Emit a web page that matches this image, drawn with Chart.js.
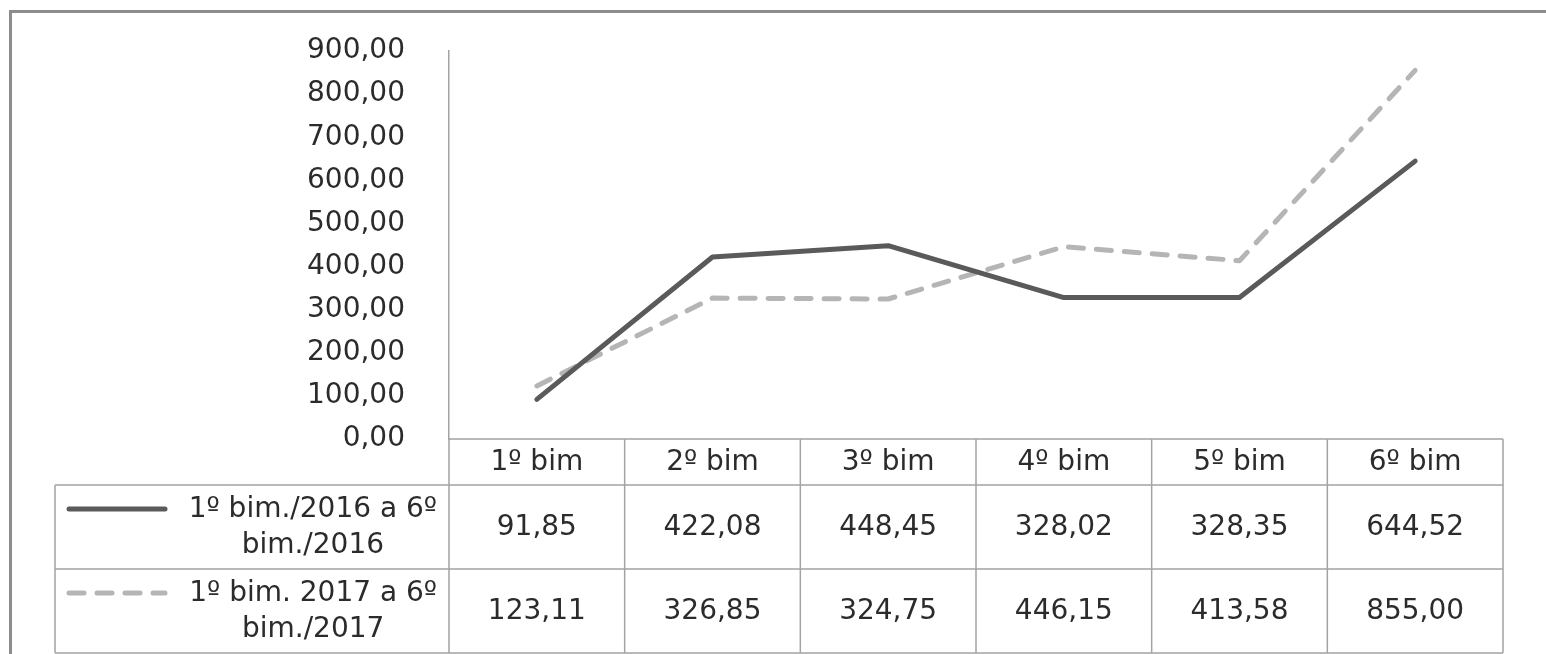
<!DOCTYPE html>
<html>
<head>
<meta charset="utf-8">
<script src="https://cdn.jsdelivr.net/npm/chart.js@4.4.1/dist/chart.umd.min.js"></script>
<style>
  html, body { margin: 0; padding: 0; background: #ffffff; }
  canvas { display: block; }
</style>
</head>
<body>
<canvas id="chart" width="1546" height="654"></canvas>
<script>
// Bimesters shown on the horizontal axis and in the data table header
const categories = ['1º bim', '2º bim', '3º bim', '4º bim', '5º bim', '6º bim'];

// Values per bimester
const values2016 = [91.85, 422.08, 448.45, 328.02, 328.35, 644.52];
const values2017 = [123.11, 326.85, 324.75, 446.15, 413.58, 855.00];

// Series names (two lines each, as shown in the table legend)
const names2016 = ['1º bim./2016 a 6º', 'bim./2016'];
const names2017 = ['1º bim. 2017 a 6º', 'bim./2017'];

// Vertical axis range
const yMin = 0;
const yMax = 900;
const yStep = 100;

const FONT_FAMILY = '"DejaVu Sans", sans-serif';
const FONT_SIZE = 28;
const TEXT_COLOR = '#2b2b2b';
const GRID_COLOR = '#a3a3a3';
const DARK = '#5a5a5a';
const LIGHT = '#b5b5b5';
const DASH = [15, 13];

const fmt = v => v.toFixed(2).replace('.', ',');

// Outer frame of the chart object
const framePlugin = {
  id: 'frame',
  beforeDraw(chart) {
    const ctx = chart.ctx;
    ctx.save();
    ctx.strokeStyle = '#8c8c8c';
    ctx.lineWidth = 3;
    ctx.beginPath();
    ctx.moveTo(10.5, chart.height);
    ctx.lineTo(10.5, 11.5);
    ctx.lineTo(chart.width, 11.5);
    ctx.stroke();
    ctx.restore();
  }
};

// Data table under the plot: header with categories, one row per series
const tablePlugin = {
  id: 'dataTable',
  afterDraw(chart) {
    const ctx = chart.ctx;
    const a = chart.chartArea;
    const xs = chart.scales.x;
    const n = categories.length;
    const colW = (a.right - a.left) / n;
    const headH = 46;
    const rowH = 84;
    const legendLeft = 55;
    const top = a.bottom;
    const headBottom = top + headH;
    const bottom = headBottom + 2 * rowH;

    ctx.save();
    ctx.strokeStyle = GRID_COLOR;
    ctx.lineWidth = 1.5;
    ctx.beginPath();
    ctx.moveTo(a.left, top);
    ctx.lineTo(a.right, top);
    for (let r = 0; r <= 2; r++) {
      const y = headBottom + r * rowH;
      ctx.moveTo(legendLeft, y);
      ctx.lineTo(a.right, y);
    }
    for (let i = 0; i <= n; i++) {
      const x = a.left + i * colW;
      ctx.moveTo(x, top);
      ctx.lineTo(x, bottom);
    }
    ctx.moveTo(legendLeft, headBottom);
    ctx.lineTo(legendLeft, bottom);
    ctx.stroke();

    ctx.fillStyle = TEXT_COLOR;
    ctx.font = FONT_SIZE + 'px ' + FONT_FAMILY;
    ctx.textAlign = 'center';
    ctx.textBaseline = 'middle';

    categories.forEach((c, i) => {
      ctx.fillText(c, xs.getPixelForValue(i), top + headH / 2 + 1);
    });

    const rows = [
      { names: names2016, data: values2016, color: DARK, dash: [] },
      { names: names2017, data: values2017, color: LIGHT, dash: DASH }
    ];

    rows.forEach((row, r) => {
      const rowTop = headBottom + r * rowH;
      const mid = rowTop + rowH / 2;
      row.data.forEach((v, i) => {
        ctx.fillText(fmt(v), xs.getPixelForValue(i), mid + 1);
      });

      // series name, two centered lines right-aligned as a block
      const textRight = a.left - 12;
      const w = Math.max(...row.names.map(s => ctx.measureText(s).width));
      const cx = textRight - w / 2;
      ctx.fillText(row.names[0], cx, mid - 17);
      ctx.fillText(row.names[1], cx, mid + 19);

      // legend key
      ctx.save();
      ctx.strokeStyle = row.color;
      ctx.lineWidth = 5;
      ctx.lineCap = 'round';
      ctx.setLineDash(row.dash);
      ctx.beginPath();
      ctx.moveTo(69, mid - 18);
      ctx.lineTo(165, mid - 18);
      ctx.stroke();
      ctx.restore();
    });

    ctx.restore();
  }
};

new Chart(document.getElementById('chart'), {
  type: 'line',
  data: {
    labels: categories,
    datasets: [
      {
        label: names2016.join(' '),
        data: values2016,
        borderColor: DARK,
        borderWidth: 5,
        borderCapStyle: 'round',
        borderJoinStyle: 'round',
        pointRadius: 0,
        tension: 0,
        fill: false
      },
      {
        label: names2017.join(' '),
        data: values2017,
        borderColor: LIGHT,
        borderWidth: 5,
        borderDash: DASH,
        borderCapStyle: 'round',
        borderJoinStyle: 'round',
        pointRadius: 0,
        tension: 0,
        fill: false
      }
    ]
  },
  options: {
    responsive: false,
    animation: false,
    devicePixelRatio: 1,
    layout: { padding: { left: 0, right: 43, top: 51, bottom: 215 } },
    plugins: {
      legend: { display: false },
      tooltip: { enabled: false },
      title: { display: false }
    },
    scales: {
      x: {
        type: 'category',
        display: false,
        offset: true
      },
      y: {
        min: yMin,
        max: yMax,
        grid: {
          drawOnChartArea: false,
          drawTicks: true,
          tickLength: 44,
          tickColor: 'rgba(0,0,0,0)'
        },
        border: { display: true, color: GRID_COLOR, width: 1.5 },
        ticks: {
          stepSize: yStep,
          padding: 0,
          color: TEXT_COLOR,
          font: { family: FONT_FAMILY, size: FONT_SIZE },
          callback: v => fmt(v)
        },
        afterFit(axis) { axis.width = 449; }
      }
    }
  },
  plugins: [framePlugin, tablePlugin]
});
</script>
</body>
</html>
